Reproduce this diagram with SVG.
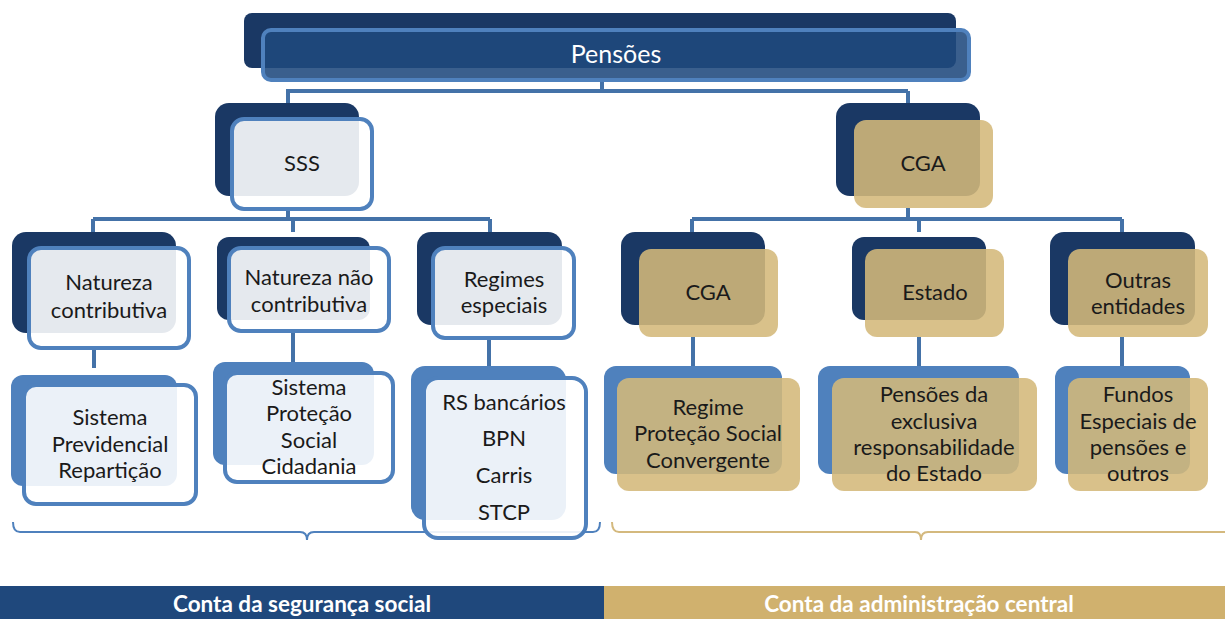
<svg xmlns="http://www.w3.org/2000/svg" width="1225" height="619" viewBox="0 0 1225 619">
<style>
.bg{fill:#ffffff}
.conn{fill:none;stroke:#4472A8;stroke-width:4}
.dark{fill:#1A3864}
.mid{fill:#4F81BD}
.fw{fill:#ffffff;fill-opacity:0.89;stroke:#4F81BD;stroke-width:4}
.ft{fill:#D4B87A;fill-opacity:0.88}
.fp{fill:#1F497D;fill-opacity:0.88;stroke:#4F81BD;stroke-width:4}
.t{font-family:Lato,"Open Sans",sans-serif;font-size:22px;fill:#1a1a1a;text-anchor:middle}
.tw{font-family:Lato,"Open Sans",sans-serif;font-size:25px;fill:#ffffff;text-anchor:middle}
.tb{font-family:Lato,"Open Sans",sans-serif;font-size:22.5px;font-weight:bold;fill:#ffffff;text-anchor:middle}
.braceB{fill:none;stroke:#4F81BD;stroke-width:2}
.braceG{fill:none;stroke:#D4B97E;stroke-width:2}
</style>
<rect class="bg" x="0" y="0" width="1225" height="619"/>
<g id="connectors">
<path class="conn" d="M602,80 V91 M286,91 H908 M288,91 V105 M908,91 V105"/>
<path class="conn" d="M288,209 V219 M93,219 H490 M93,219 V234 M293,219 V232 M490,219 V234"/>
<path class="conn" d="M94,348 V368 M293,331 V362 M489,338 V366"/>
<path class="conn" d="M908,208 V219 M692,219 H1122 M692,219 V234 M919,219 V232 M1122,219 V234"/>
<path class="conn" d="M693,337 V366 M919,337 V366 M1122,337 V366"/>
</g>
<g id="braces">
<path class="braceB" d="M13,522 Q13,532 20,532 H300 Q307,532 307,540 Q307,532 314,532 H593 Q600,532 600,522"/>
<path class="braceG" d="M612,522 Q612,532 619,532 H915 Q921,532 921,540 Q921,532 928,532 H1225"/>
</g>
<g id="n-pensoes">
<rect class="dark" x="244" y="13" width="712" height="55" rx="8"/>
<rect class="fp" x="263" y="30" width="706" height="50" rx="8"/>
<text class="tw" x="616" y="63">Pensões</text>
</g>
<g id="n-sss">
<rect class="dark" x="215" y="103" width="144" height="93" rx="14"/>
<rect class="fw" x="232" y="119" width="140" height="90" rx="12"/>
<text class="t" x="302" y="171">SSS</text>
</g>
<g id="n-cga">
<rect class="dark" x="836" y="103" width="144" height="93" rx="14"/>
<rect class="ft" x="854" y="120" width="139" height="88" rx="12"/>
<text class="t" x="923" y="171">CGA</text>
</g>
<g id="n-natcontr">
<rect class="dark" x="12" y="232" width="164" height="101" rx="14"/>
<rect class="fw" x="29" y="248" width="160" height="100" rx="12"/>
<text class="t" x="109" y="290">Natureza</text>
<text class="t" x="109" y="318">contributiva</text>
</g>
<g id="n-natnaocontr">
<rect class="dark" x="217" y="237" width="153" height="83" rx="12"/>
<rect class="fw" x="229" y="248" width="160" height="83" rx="12"/>
<text class="t" x="309" y="285">Natureza não</text>
<text class="t" x="309" y="312">contributiva</text>
</g>
<g id="n-regesp">
<rect class="dark" x="417" y="232" width="145" height="93" rx="14"/>
<rect class="fw" x="433" y="248" width="141" height="90" rx="12"/>
<text class="t" x="504" y="287">Regimes</text>
<text class="t" x="504" y="313">especiais</text>
</g>
<g id="n-cga2">
<rect class="dark" x="621" y="232" width="144" height="93" rx="14"/>
<rect class="ft" x="639" y="249" width="139" height="88" rx="12"/>
<text class="t" x="708" y="300">CGA</text>
</g>
<g id="n-estado">
<rect class="dark" x="852" y="237" width="134" height="83" rx="12"/>
<rect class="ft" x="865" y="249" width="139" height="88" rx="12"/>
<text class="t" x="935" y="300">Estado</text>
</g>
<g id="n-outras">
<rect class="dark" x="1050" y="232" width="145" height="93" rx="14"/>
<rect class="ft" x="1068" y="249" width="140" height="88" rx="12"/>
<text class="t" x="1138" y="288">Outras</text>
<text class="t" x="1138" y="314">entidades</text>
</g>
<g id="n-spr">
<rect class="mid" x="11" y="375" width="166" height="111" rx="12"/>
<rect class="fw" x="24" y="385" width="172" height="119" rx="12"/>
<text class="t" x="110" y="425">Sistema</text>
<text class="t" x="110" y="452">Previdencial</text>
<text class="t" x="110" y="478">Repartição</text>
</g>
<g id="n-spsc">
<rect class="mid" x="213" y="362" width="161" height="103" rx="12"/>
<rect class="fw" x="225" y="373" width="168" height="109" rx="12"/>
<text class="t" x="309" y="395">Sistema</text>
<text class="t" x="309" y="421">Proteção</text>
<text class="t" x="309" y="448">Social</text>
<text class="t" x="309" y="474">Cidadania</text>
</g>
<g id="n-rs">
<rect class="mid" x="411" y="366" width="155" height="154" rx="14"/>
<rect class="fw" x="424" y="378" width="162" height="160" rx="14"/>
<text class="t" x="504" y="410">RS bancários</text>
<text class="t" x="504" y="446">BPN</text>
<text class="t" x="504" y="483">Carris</text>
<text class="t" x="504" y="520">STCP</text>
</g>
<g id="n-rpsc">
<rect class="mid" x="604" y="366" width="178" height="108" rx="12"/>
<rect class="ft" x="617" y="378" width="183" height="113" rx="12"/>
<text class="t" x="708" y="415">Regime</text>
<text class="t" x="708" y="441">Proteção Social</text>
<text class="t" x="708" y="468">Convergente</text>
</g>
<g id="n-pere">
<rect class="mid" x="818" y="366" width="201" height="108" rx="12"/>
<rect class="ft" x="832" y="378" width="205" height="113" rx="12"/>
<text class="t" x="934" y="402">Pensões da</text>
<text class="t" x="934" y="429">exclusiva</text>
<text class="t" x="934" y="455">responsabilidade</text>
<text class="t" x="934" y="481">do Estado</text>
</g>
<g id="n-fundos">
<rect class="mid" x="1055" y="366" width="135" height="108" rx="12"/>
<rect class="ft" x="1068" y="378" width="140" height="113" rx="12"/>
<text class="t" x="1138" y="402">Fundos</text>
<text class="t" x="1138" y="429">Especiais de</text>
<text class="t" x="1138" y="455">pensões e</text>
<text class="t" x="1138" y="481">outros</text>
</g>
<g id="bars">
<rect x="0" y="586" width="604" height="33" fill="#1F487C"/>
<rect x="604" y="586" width="621" height="33" fill="#D0B16E"/>
<text class="tb" x="302" y="612">Conta da segurança social</text>
<text class="tb" x="919" y="612">Conta da administração central</text>
</g>
</svg>
